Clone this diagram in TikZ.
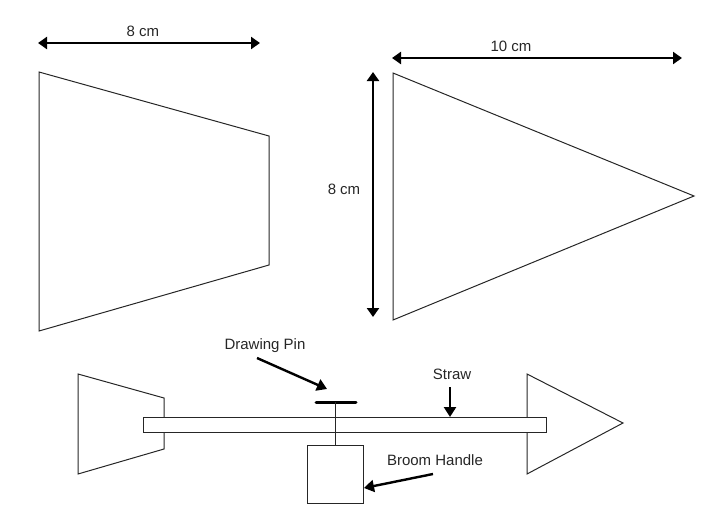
\documentclass[tikz,border=0pt]{standalone}
\usepackage{fontspec}
\setmainfont{Liberation Sans}
\usetikzlibrary{arrows.meta}
\tikzset{
  outline/.style={draw=black!85,line width=1pt,line join=miter},
  dimarrow/.style={draw=black,line width=2.6pt,{Triangle[length=9pt,width=12pt]}-{Triangle[length=9pt,width=12pt]}},
  callout/.style={draw=black,line width=2.4pt,-{Triangle[length=10pt,width=12pt]}},
  lbl/.style={inner sep=0pt,text=black!85,font=\fontsize{15}{17}\selectfont},
  partbox/.style={outline,fill=white,inner sep=0pt,minimum width=#1,anchor=north west},
}
\begin{document}
\begin{tikzpicture}[x=1pt,y=-1pt]
\useasboundingbox (0,0) rectangle (728,517);
% large templates
\draw[outline] (39,72) -- (269,136) -- (269,265) -- (39,331) -- cycle;
\draw[outline] (393,73) -- (694,196) -- (393,320) -- cycle;
% dimensions
\coordinate (a1) at (38,43);  \coordinate (a2) at (260,43);
\coordinate (b1) at (392,58); \coordinate (b2) at (682,58);
\coordinate (c1) at (373,72); \coordinate (c2) at (373,317);
\draw[dimarrow] (a1) -- (a2);
\draw[dimarrow] (b1) -- (b2);
\draw[dimarrow] (c1) -- (c2);
\node[lbl] (l8a) at (143,31) {8 cm};
\node[lbl] (l10) at (511,46) {10 cm};
\node[lbl] (l8b) at (344,189) {8 cm};
% assembled model
\draw[outline] (78,374) -- (164,398) -- (164,449) -- (78,474) -- cycle;
\draw[outline] (527,374) -- (623,423) -- (527,474) -- cycle;
\node[partbox=403pt,minimum height=15pt] (straw) at (143,417) {};
\node[partbox=56pt,minimum height=58pt] (handle) at (307,445) {};
\coordinate (pinL) at (316,402); \coordinate (pinR) at (356,402); \coordinate (pinC) at (335,402);
\draw[draw=black,line width=3pt,line cap=round] (pinL) -- (pinR);
\draw[outline] (pinC) -- (handle.north -| pinC);
% labels and callouts
\node[lbl] (ldp) at (265,346) {Drawing Pin};
\node[lbl] (lst) at (452,374) {Straw};
\node[lbl] (lbh) at (435,460) {Broom Handle};
\coordinate (dp0) at (257,358); \coordinate (dp1) at (327,389);
\coordinate (st0) at (450,387); \coordinate (st1) at (450,417);
\coordinate (bh0) at (433,474); \coordinate (bh1) at (364,488);
\draw[callout] (dp0) -- (dp1);
\draw[callout] (st0) -- (st1);
\draw[callout] (bh0) -- (bh1);
\end{tikzpicture}
\end{document}
